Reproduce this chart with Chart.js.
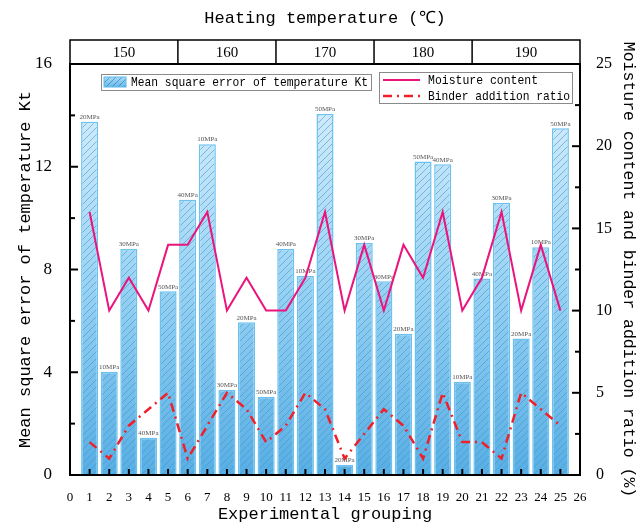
<!DOCTYPE html>
<html>
<head>
<meta charset="utf-8">
<script src="https://cdn.jsdelivr.net/npm/chart.js@4/dist/chart.umd.min.js"></script>
<style>
  html, body { margin: 0; padding: 0; background: #fff; }
</style>
</head>
<body>
<canvas id="chart" width="640" height="527"></canvas>
<script>
const groups = [1, 2, 3, 4, 5, 6, 7, 8, 9, 10, 11, 12, 13, 14, 15, 16, 17, 18, 19, 20, 21, 22, 23, 24, 25];
const kt = [13.75, 4.02, 8.8, 1.45, 7.15, 10.72, 12.88, 3.32, 5.95, 3.05, 8.8, 7.75, 14.05, 0.4, 9.03,
            7.54, 5.5, 12.2, 12.1, 3.63, 7.65, 10.6, 5.31, 8.87, 13.5];
const pressures = ['20MPa', '10MPa', '30MPa', '40MPa', '50MPa', '40MPa', '10MPa', '30MPa', '20MPa', '50MPa',
                   '40MPa', '10MPa', '50MPa', '20MPa', '30MPa', '30MPa', '20MPa', '50MPa', '40MPa', '10MPa',
                   '40MPa', '30MPa', '20MPa', '10MPa', '50MPa'];
const moisture = [16, 10, 12, 10, 14, 14, 16, 10, 12, 10, 10, 12, 16, 10, 14, 10, 14, 12, 16, 10, 12, 16, 10, 14, 10];
const binder = [2, 1, 3, 4, 5, 1, 3, 5, 4, 2, 3, 5, 4, 1, 2.5, 4, 3, 1, 5, 2, 2, 1, 5, 4, 3];
const temperatures = ['150', '160', '170', '180', '190'];
const tempBounds = [0, 5.5, 10.5, 15.5, 20.5, 26];

const MOISTURE_COLOR = '#eb147d';
const BINDER_COLOR = '#f0202a';
const MONO = '"Liberation Mono", monospace';
const SERIF = '"Liberation Serif", serif';
const BAR_DATASET = 2;

let barFill = null;

// gradient + diagonal hatch, one tile the full canvas height so the gradient follows the y axis
function getBarFill(chart) {
  const area = chart.chartArea;
  if (!area) return '#8ccbf0';
  if (barFill) return barFill;
  const step = 7;
  const tile = document.createElement('canvas');
  tile.width = step;
  tile.height = chart.height;
  const t = tile.getContext('2d');
  const g = t.createLinearGradient(0, area.top, 0, area.bottom);
  g.addColorStop(0, '#e0f2fc');
  g.addColorStop(0.5, '#9fd5f3');
  g.addColorStop(1, '#58aee3');
  t.fillStyle = g;
  t.fillRect(0, 0, step, tile.height);
  t.strokeStyle = 'rgba(60, 150, 215, 0.6)';
  t.lineWidth = 1;
  t.beginPath();
  for (let y = 0; y <= tile.height + step; y += step) {
    t.moveTo(0, y);
    t.lineTo(step, y - step);
  }
  t.stroke();
  barFill = chart.ctx.createPattern(tile, 'repeat');
  return barFill;
}

function line(ctx, x1, y1, x2, y2) {
  ctx.beginPath();
  ctx.moveTo(x1, y1);
  ctx.lineTo(x2, y2);
  ctx.stroke();
}

const barLabels = {
  id: 'barLabels',
  afterDatasetDraw(chart, args) {
    if (args.index !== BAR_DATASET) return;
    const ctx = chart.ctx;
    const meta = chart.getDatasetMeta(BAR_DATASET);
    ctx.save();
    ctx.font = '7px ' + SERIF;
    ctx.fillStyle = '#555';
    ctx.textAlign = 'center';
    ctx.textBaseline = 'bottom';
    meta.data.forEach((bar, i) => ctx.fillText(pressures[i], bar.x, bar.y - 1));
    ctx.restore();
  }
};

const decorations = {
  id: 'decorations',
  afterDraw(chart) {
    const { ctx, chartArea: a, scales: { x, y, y1 } } = chart;
    ctx.save();
    ctx.strokeStyle = '#000';
    ctx.lineWidth = 2;

    // inward tick marks
    for (let v = 0; v <= 26; v++) {
      const px = x.getPixelForValue(v);
      line(ctx, px, a.bottom, px, a.bottom - 6);
    }
    for (let v = 0; v <= 16; v += 2) {
      const py = y.getPixelForValue(v);
      line(ctx, a.left, py, a.left + (v % 4 === 0 ? 8 : 5), py);
    }
    for (let v = 0; v <= 25; v += 2.5) {
      const py = y1.getPixelForValue(v);
      line(ctx, a.right, py, a.right - (v % 5 === 0 ? 8 : 5), py);
    }

    // frame
    ctx.strokeRect(a.left, a.top, a.right - a.left, a.bottom - a.top);

    // temperature header
    const headTop = 40;
    ctx.lineWidth = 1.5;
    ctx.strokeRect(a.left, headTop, a.right - a.left, a.top - headTop);
    ctx.font = '15px ' + SERIF;
    ctx.fillStyle = '#000';
    ctx.textAlign = 'center';
    ctx.textBaseline = 'middle';
    temperatures.forEach((t, i) => {
      const x0 = x.getPixelForValue(tempBounds[i]);
      const x1 = x.getPixelForValue(tempBounds[i + 1]);
      if (i > 0) line(ctx, x0, headTop, x0, a.top);
      ctx.fillText(t, (x0 + x1) / 2, (headTop + a.top) / 2 + 1);
    });

    ctx.font = '17px ' + MONO;
    ctx.fillText('Heating temperature (℃)', (a.left + a.right) / 2, 18);

    // legend 1: bars
    ctx.lineWidth = 1;
    ctx.strokeStyle = '#8a8a8a';
    ctx.strokeRect(101.5, 74.5, 270, 16);
    const sw = ctx.createLinearGradient(0, 77, 0, 88);
    sw.addColorStop(0, '#a9daf5');
    sw.addColorStop(1, '#62b3e4');
    ctx.fillStyle = sw;
    ctx.fillRect(104, 77, 22, 10);
    ctx.strokeStyle = 'rgba(40, 130, 200, 0.7)';
    ctx.save();
    ctx.beginPath();
    ctx.rect(104, 77, 22, 10);
    ctx.clip();
    for (let sx = 100; sx < 134; sx += 6) line(ctx, sx, 87, sx + 10, 77);
    ctx.restore();
    ctx.strokeStyle = '#5bbcec';
    ctx.strokeRect(104, 77, 22, 10);
    ctx.fillStyle = '#000';
    ctx.font = '13px ' + MONO;
    ctx.textAlign = 'left';
    ctx.fillText('Mean square error of temperature Kt', 131, 83, 237);

    // legend 2: lines
    ctx.strokeStyle = '#8a8a8a';
    ctx.strokeRect(379.5, 72.5, 193, 31);
    ctx.lineWidth = 2;
    ctx.strokeStyle = MOISTURE_COLOR;
    line(ctx, 383, 80, 420, 80);
    ctx.lineWidth = 2.5;
    ctx.strokeStyle = BINDER_COLOR;
    ctx.setLineDash([9, 5, 2, 5]);
    line(ctx, 383, 96, 420, 96);
    ctx.setLineDash([]);
    ctx.fillText('Moisture content', 428, 81, 110);
    ctx.fillText('Binder addition ratio', 428, 97, 142);

    ctx.restore();
  }
};

new Chart(document.getElementById('chart'), {
  type: 'bar',
  data: {
    datasets: [
      {
        type: 'line',
        label: 'Moisture content',
        data: groups.map((g, i) => ({ x: g, y: moisture[i] })),
        yAxisID: 'y1',
        borderColor: MOISTURE_COLOR,
        borderWidth: 2,
        pointRadius: 0,
        fill: false,
        order: 0,
      },
      {
        type: 'line',
        label: 'Binder addition ratio',
        data: groups.map((g, i) => ({ x: g, y: binder[i] })),
        yAxisID: 'y1',
        borderColor: BINDER_COLOR,
        borderWidth: 2.5,
        borderDash: [9, 5, 2, 5],
        pointRadius: 0,
        fill: false,
        order: 0,
      },
      {
        label: 'Mean square error of temperature Kt',
        data: groups.map((g, i) => ({ x: g, y: kt[i] })),
        yAxisID: 'y',
        backgroundColor: (c) => getBarFill(c.chart),
        borderColor: '#6cc2ee',
        borderWidth: 1.5,
        barPercentage: 0.87,
        categoryPercentage: 1,
        order: 1,
      },
    ],
  },
  options: {
    responsive: false,
    devicePixelRatio: 1,
    animation: false,
    layout: { padding: { top: 64, left: 0, right: 0, bottom: 0 } },
    plugins: {
      legend: { display: false },
      tooltip: { enabled: false },
    },
    scales: {
      x: {
        type: 'linear',
        min: 0,
        max: 26,
        offset: false,
        grid: { display: false, offset: false },
        border: { display: false },
        ticks: {
          stepSize: 1,
          autoSkip: false,
          maxRotation: 0,
          padding: 7,
          color: '#000',
          font: { family: 'Liberation Serif', size: 13 },
        },
        title: {
          display: true,
          text: 'Experimental grouping',
          color: '#000',
          font: { family: 'Liberation Mono', size: 17 },
          padding: { top: 0, bottom: 2 },
        },
        afterFit(s) { s.height = 52; },
      },
      y: {
        position: 'left',
        min: 0,
        max: 16,
        grid: { display: false },
        border: { display: false },
        ticks: {
          stepSize: 4,
          padding: 10,
          color: '#000',
          font: { family: 'Liberation Serif', size: 17 },
        },
        title: {
          display: true,
          text: 'Mean square error of temperature Kt',
          color: '#000',
          font: { family: 'Liberation Mono', size: 17 },
          padding: { top: 15, bottom: 0 },
        },
        afterFit(s) { s.width = 70; },
      },
      y1: {
        position: 'right',
        min: 0,
        max: 25,
        grid: { display: false },
        border: { display: false },
        ticks: {
          stepSize: 5,
          padding: 8,
          color: '#000',
          font: { family: 'Liberation Serif', size: 16 },
        },
        title: {
          display: true,
          text: 'Moisture content and binder addition ratio (%)',
          color: '#000',
          font: { family: 'Liberation Mono', size: 16.5 },
          padding: { top: 2, bottom: 0 },
        },
        afterFit(s) { s.width = 60; },
      },
    },
  },
  plugins: [barLabels, decorations],
});
</script>
</body>
</html>
